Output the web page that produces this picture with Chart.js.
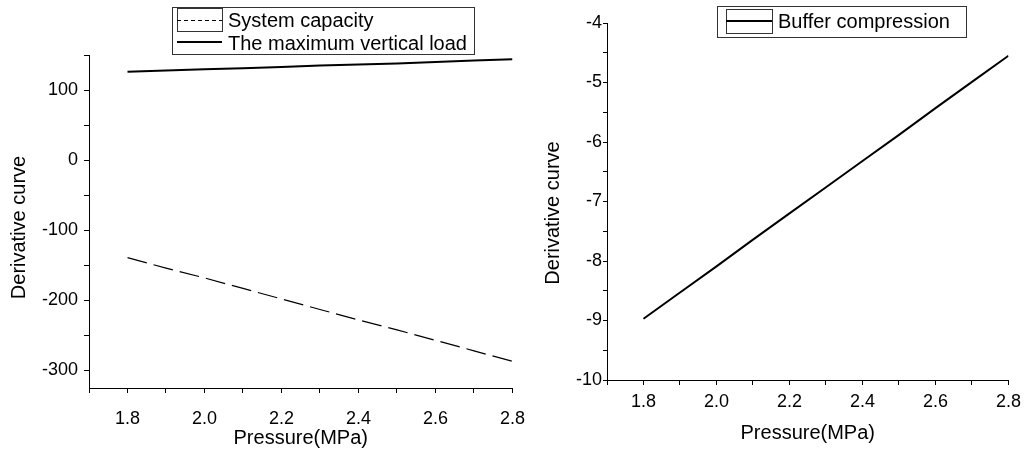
<!DOCTYPE html>
<html>
<head>
<meta charset="utf-8">
<script src="https://cdn.jsdelivr.net/npm/chart.js@4.4.1/dist/chart.umd.min.js"></script>
<style>
html,body{margin:0;padding:0;background:#fff;width:1027px;height:450px;overflow:hidden;}
#c1{position:absolute;left:0;top:0;}
#c2{position:absolute;left:520px;top:0;}
</style>
</head>
<body>
<canvas id="c1" width="540" height="450"></canvas>
<canvas id="c2" width="507" height="450"></canvas>
<script>
// ---- data ----
const pressure = [1.8, 1.9, 2.0, 2.1, 2.2, 2.3, 2.4, 2.5, 2.6, 2.7, 2.8];
const systemCapacity = [-139, -154, -168, -183, -198, -213, -228, -242, -257, -272, -287];
const maxVerticalLoad = [126, 128, 129.5, 131, 133, 135, 136.5, 138, 140, 142, 144];
const bufferCompression = [-8.97, -8.53, -8.09, -7.64, -7.20, -6.76, -6.32, -5.88, -5.43, -4.99, -4.55];

const xTickLabels = ['1.8', '2.0', '2.2', '2.4', '2.6', '2.8'];
const leftYTickLabels = ['100', '0', '-100', '-200', '-300'];
const rightYTickLabels = ['-4', '-5', '-6', '-7', '-8', '-9', '-10'];

const xTitle = 'Pressure(MPa)';
const yTitle = 'Derivative curve';
const labelsLeft = ['System capacity', 'The maximum vertical load'];
const labelsRight = ['Buffer compression'];

// ---- helpers ----
const FONT = '"Liberation Sans", Arial, sans-serif';
const toXY = (ys) => pressure.map((p, i) => ({x: p, y: ys[i]}));

const boxedLegend = {
  id: 'boxedLegend',
  afterDraw(chart, args, o) {
    const ctx = chart.ctx;
    ctx.save();
    ctx.strokeStyle = o.borderColor;
    ctx.lineWidth = 1;
    ctx.setLineDash([]);
    ctx.strokeRect(o.x + 0.5, o.y + 0.5, o.w, o.h);
    ctx.font = o.font;
    ctx.fillStyle = '#000';
    ctx.textAlign = 'left';
    ctx.textBaseline = 'middle';
    chart.data.datasets.forEach((ds, i) => {
      const r = o.rows[i];
      if (r.box) {
        ctx.setLineDash([]);
        ctx.lineWidth = 1;
        ctx.strokeStyle = o.borderColor;
        ctx.strokeRect(o.sx + 0.5, r.box[0] + 0.5, o.sw, r.box[1]);
      }
      ctx.strokeStyle = ds.borderColor;
      ctx.lineWidth = ds.borderWidth;
      ctx.setLineDash(r.dash || []);
      ctx.beginPath();
      ctx.moveTo(o.sx, r.lineY);
      ctx.lineTo(o.sx + o.sw, r.lineY);
      ctx.stroke();
      ctx.setLineDash([]);
      ctx.fillText(ds.label, o.tx, r.textY);
    });
    ctx.restore();
  }
};

const yTitlePlugin = {
  id: 'yTitleDraw',
  afterDraw(chart, args, o) {
    const ctx = chart.ctx;
    ctx.save();
    ctx.translate(o.x, o.y);
    ctx.rotate(-Math.PI / 2);
    ctx.font = o.font;
    ctx.fillStyle = '#000';
    ctx.textAlign = 'center';
    ctx.textBaseline = 'middle';
    ctx.fillText(chart.options.scales.y.title.text, 0, 0);
    ctx.restore();
  }
};

function xScale(tickPad, titlePadBottom, height) {
  return {
    type: 'linear',
    min: 1.7, max: 2.8,
    border: {display: true, color: '#000', width: 1},
    grid: {display: true, drawOnChartArea: false, drawTicks: true, tickLength: 5, color: '#000', tickColor: '#000'},
    ticks: {
      stepSize: 0.1, autoSkip: false, maxRotation: 0, includeBounds: true,
      padding: tickPad, color: '#000', font: {family: FONT, size: 18},
      callback: (v) => { const s = Number(v).toFixed(1); return xTickLabels.includes(s) ? s : ''; }
    },
    title: {display: true, text: xTitle, color: '#000', font: {family: FONT, size: 20}, padding: {top: 0, bottom: titlePadBottom}},
    afterFit: (s) => { s.height = height; }
  };
}

// ---- left chart ----
new Chart(document.getElementById('c1'), {
  type: 'line',
  data: {
    datasets: [
      {label: labelsLeft[0], data: toXY(systemCapacity), borderColor: '#000', borderWidth: 1.2, borderDash: [20, 7], pointRadius: 0, tension: 0, fill: false},
      {label: labelsLeft[1], data: toXY(maxVerticalLoad), borderColor: '#000', borderWidth: 2, pointRadius: 0, tension: 0, fill: false}
    ]
  },
  options: {
    responsive: false, animation: false, devicePixelRatio: 1,
    layout: {padding: {left: 0, right: 27, top: 55, bottom: 0}},
    plugins: {
      legend: {display: false}, tooltip: {enabled: false},
      boxedLegend: {
        x: 172, y: 7, w: 302, h: 47, borderColor: '#333',
        sx: 177, sw: 45, tx: 228, font: '20px ' + FONT,
        rows: [{box: [8, 23], lineY: 20.5, textY: 21, dash: [4, 3]}, {lineY: 42, textY: 44}]
      },
      yTitleDraw: {x: 19, y: 227.5, font: '20px ' + FONT}
    },
    scales: {
      x: xScale(15, 0, 62),
      y: {
        type: 'linear', min: -325, max: 150,
        border: {display: true, color: '#000', width: 1},
        grid: {display: true, drawOnChartArea: false, drawTicks: true, tickLength: 5, color: '#000', tickColor: '#000'},
        ticks: {
          stepSize: 50, includeBounds: false, autoSkip: false, padding: 6, color: '#000', font: {family: FONT, size: 18},
          callback: (v) => { const s = String(Math.round(v)); return leftYTickLabels.includes(s) ? s : ''; }
        },
        title: {display: false, text: yTitle},
        afterFit: (s) => { s.width = 89; }
      }
    }
  },
  plugins: [boxedLegend, yTitlePlugin]
});

// ---- right chart ----
new Chart(document.getElementById('c2'), {
  type: 'line',
  data: {
    datasets: [
      {label: labelsRight[0], data: toXY(bufferCompression), borderColor: '#000', borderWidth: 2, pointRadius: 0, tension: 0, fill: false}
    ]
  },
  options: {
    responsive: false, animation: false, devicePixelRatio: 1,
    layout: {padding: {left: 0, right: 15, top: 23, bottom: 0}},
    plugins: {
      legend: {display: false}, tooltip: {enabled: false},
      boxedLegend: {
        x: 197, y: 6, w: 249, h: 31, borderColor: '#333',
        sx: 206, sw: 46, tx: 258, font: '20px ' + FONT,
        rows: [{box: [9, 24], lineY: 21, textY: 22}]
      },
      yTitleDraw: {x: 33, y: 213, font: '20px ' + FONT}
    },
    scales: {
      x: xScale(6, 5, 70),
      y: {
        type: 'linear', min: -10, max: -4,
        border: {display: true, color: '#000', width: 1},
        grid: {display: true, drawOnChartArea: false, drawTicks: true, tickLength: 4, color: '#000', tickColor: '#000'},
        ticks: {
          stepSize: 0.5, includeBounds: false, autoSkip: false, padding: 1, color: '#000', font: {family: FONT, size: 18},
          callback: (v) => { const s = String(v); return rightYTickLabels.includes(s) ? s : ''; }
        },
        title: {display: false, text: yTitle},
        afterFit: (s) => { s.width = 87; }
      }
    }
  },
  plugins: [boxedLegend, yTitlePlugin]
});
</script>
</body>
</html>
